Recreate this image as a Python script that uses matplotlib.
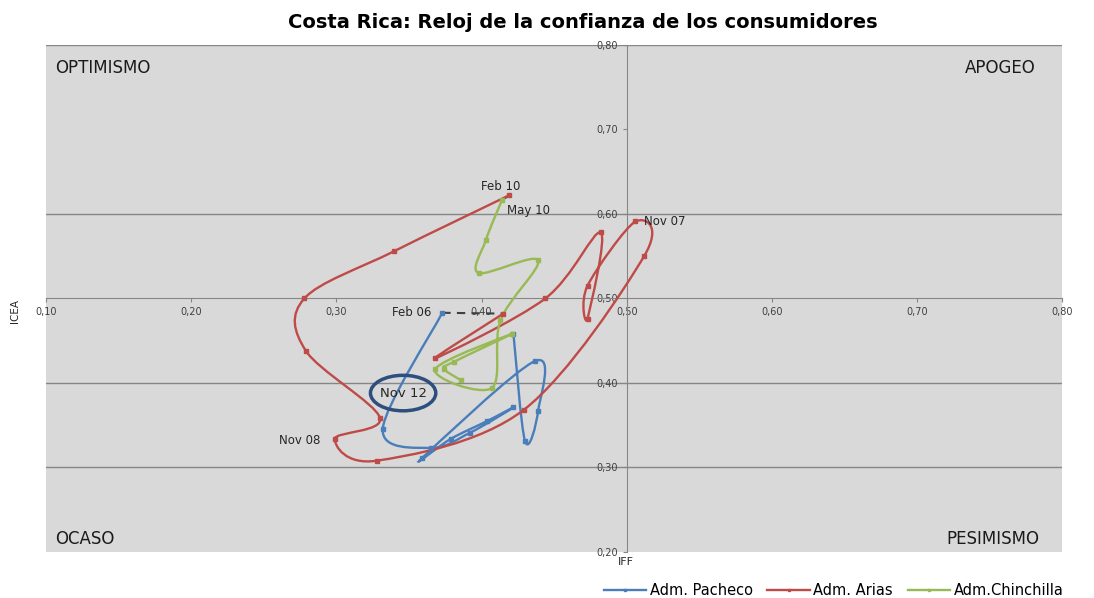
import matplotlib
matplotlib.use('Agg')
import matplotlib.pyplot as plt
from matplotlib.path import Path
from matplotlib.patches import PathPatch, Ellipse
from matplotlib.ticker import FuncFormatter
import numpy as np

# Reloj de la confianza: IFF (x) vs ICEA (y) por administracion
pacheco_iff = [0.422, 0.430, 0.439, 0.437, 0.359, 0.379, 0.404, 0.422, 0.392, 0.365, 0.332, 0.373]
pacheco_icea = [0.458, 0.331, 0.367, 0.426, 0.311, 0.334, 0.355, 0.371, 0.341, 0.323, 0.346, 0.483]

arias_iff = [0.415, 0.368, 0.444, 0.482, 0.473, 0.473, 0.506, 0.512, 0.429, 0.328,
             0.299, 0.330, 0.279, 0.278, 0.340, 0.419]
arias_icea = [0.482, 0.429, 0.500, 0.578, 0.476, 0.515, 0.591, 0.550, 0.368, 0.308,
              0.334, 0.359, 0.438, 0.500, 0.556, 0.622]

chinchilla_iff = [0.414, 0.403, 0.398, 0.439, 0.413, 0.407, 0.368, 0.421, 0.381, 0.374, 0.386]
chinchilla_icea = [0.616, 0.569, 0.530, 0.545, 0.474, 0.394, 0.416, 0.458, 0.425, 0.417, 0.403]

# etiquetas de puntos: (serie, indice, texto, desplazamiento en puntos)
point_labels = [
    ('pacheco', -1, 'Feb 06', (-36, 0)),
    ('arias', 6, 'Nov 07', (6, 0)),
    ('arias', 10, 'Nov 08', (-40, -1)),
    ('arias', -1, 'Feb 10', (-20, 6)),
    ('chinchilla', 0, 'May 10', (4, -7)),
]

BLUE = '#4A7EBB'
RED = '#BE4B48'
GREEN = '#98B954'
GRID = '#868686'


def smooth_path(xs, ys):
    """Bezier path through the points, like Excel's smoothed lines."""
    pts = np.column_stack([xs, ys])
    n = len(pts)
    verts = [pts[0]]
    codes = [Path.MOVETO]
    for i in range(n - 1):
        p0 = pts[max(i - 1, 0)]
        p1 = pts[i]
        p2 = pts[i + 1]
        p3 = pts[min(i + 2, n - 1)]
        c1 = p1 + (p2 - p0) / 6.0
        c2 = p2 - (p3 - p1) / 6.0
        verts += [c1, c2, p2]
        codes += [Path.CURVE4] * 3
    return Path(verts, codes)


fig = plt.figure(figsize=(10.94, 5.98), dpi=100)
ax = fig.add_axes([0.042, 0.077, 0.929, 0.848])
ax.set_facecolor('#D9D9D9')
ax.set_xlim(0.1, 0.8)
ax.set_ylim(0.2, 0.8)

# lineas de guia
for yv in [0.3, 0.4, 0.6, 0.8]:
    ax.axhline(yv, color=GRID, lw=1, zorder=1)

# ejes cruzando en (0.5, 0.5)
for side in ['top', 'right']:
    ax.spines[side].set_visible(False)
ax.spines['left'].set_position(('data', 0.5))
ax.spines['bottom'].set_position(('data', 0.5))
ax.spines['left'].set_color(GRID)
ax.spines['bottom'].set_color(GRID)
ax.set_xticks(np.arange(0.1, 0.81, 0.1))
ax.set_yticks(np.arange(0.2, 0.81, 0.1))
fmt = FuncFormatter(lambda v, p: ('%.2f' % v).replace('.', ','))
ax.xaxis.set_major_formatter(fmt)
ax.yaxis.set_major_formatter(fmt)
ax.tick_params(axis='both', labelsize=7, colors='#404040', length=3, width=0.8)
ax.tick_params(axis='x', color=GRID)
ax.tick_params(axis='y', color=GRID)

series = {
    'pacheco': (pacheco_iff, pacheco_icea, BLUE, 'Adm. Pacheco'),
    'arias': (arias_iff, arias_icea, RED, 'Adm. Arias'),
    'chinchilla': (chinchilla_iff, chinchilla_icea, GREEN, 'Adm.Chinchilla'),
}
for key, (xs, ys, col, name) in series.items():
    patch = PathPatch(smooth_path(xs, ys), facecolor='none', edgecolor=col, lw=1.7, zorder=3)
    ax.add_patch(patch)
    ms = 3.5 if key == 'arias' else 2.5
    ax.plot(xs, ys, ls='none', marker='s', ms=ms, color=col, zorder=4)
    # entrada de la leyenda
    ax.plot([], [], color=col, lw=1.7, marker='s', ms=2, label=name)

# enlace entre administraciones
ax.plot([pacheco_iff[-1], arias_iff[0]], [pacheco_icea[-1], arias_icea[0]],
        ls='--', color='#404040', lw=1.5, dashes=(4, 3), zorder=2)
ax.plot([arias_iff[-1], chinchilla_iff[0]], [arias_icea[-1], chinchilla_icea[0]],
        ls='--', color='#404040', lw=1.5, dashes=(4, 3), zorder=2)

for key, idx, txt, off in point_labels:
    xs, ys = series[key][0], series[key][1]
    ax.annotate(txt, (xs[idx], ys[idx]), xytext=off, textcoords='offset points',
                fontsize=8.5, color='#262626', va='center', zorder=5)

# etiqueta encerrada Nov 12
ax.add_patch(Ellipse((0.346, 0.388), 0.045, 0.042, facecolor='none',
                     edgecolor='#2E4E7E', lw=2.5, zorder=5))
ax.text(0.346, 0.388, 'Nov 12', ha='center', va='center', fontsize=9.5,
        color='#262626', zorder=6)

# cuadrantes
qfont = dict(fontsize=12, color='#1A1A1A', family='DejaVu Sans')
ax.text(0.009, 0.955, 'OPTIMISMO', transform=ax.transAxes, ha='left', va='center', **qfont)
ax.text(0.974, 0.955, 'APOGEO', transform=ax.transAxes, ha='right', va='center', **qfont)
ax.text(0.009, 0.025, 'OCASO', transform=ax.transAxes, ha='left', va='center', **qfont)
ax.text(0.977, 0.025, 'PESIMISMO', transform=ax.transAxes, ha='right', va='center', **qfont)

fig.text(0.533, 0.963, 'Costa Rica: Reloj de la confianza de los consumidores',
         ha='center', va='center', fontsize=14, fontweight='bold', family='DejaVu Sans')
fig.text(0.572, 0.060, 'IFF', ha='center', va='center', fontsize=8, color='#262626')
fig.text(0.014, 0.48, 'ICEA', ha='center', va='center', rotation=90, fontsize=7.5,
         color='#262626')

fig.legend(loc='center left', bbox_to_anchor=(0.540, 0.012), ncol=3, frameon=False,
           handlelength=2.9, columnspacing=1.0, handletextpad=0.25,
           prop={'family': 'DejaVu Sans', 'size': 10.5})

fig.savefig('out.png', dpi=100)
